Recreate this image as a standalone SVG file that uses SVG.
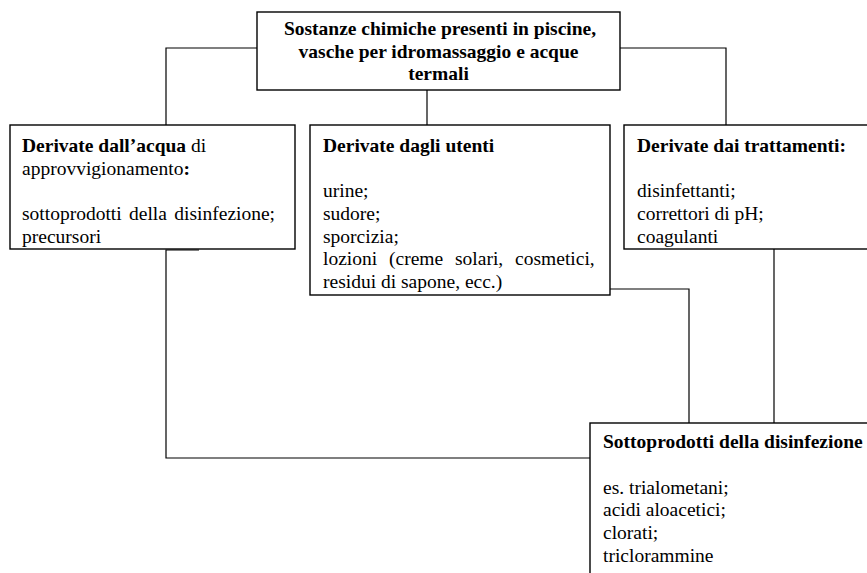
<svg xmlns="http://www.w3.org/2000/svg" width="867" height="573" viewBox="0 0 867 573">
  <style>
    .box { fill: #fff; stroke: #000; stroke-width: 1.4; }
    .wire { fill: none; stroke: #000; stroke-width: 1.2; }
    text { font-family: "Liberation Serif", "Times New Roman", serif; font-size: 19.5px; fill: #000; }
    .b { font-weight: bold; }
    .mid { text-anchor: middle; }
  </style>
  <rect width="867" height="573" fill="#fff"/>

  <!-- connectors -->
  <g id="connectors">
    <polyline class="wire" points="257,48 166,48 166,125"/>
    <line class="wire" x1="427" y1="90" x2="427" y2="125"/>
    <polyline class="wire" points="620,48 726,48 726,125"/>
    <polyline class="wire" points="199,250 166,250 166,458 590,458"/>
    <polyline class="wire" points="610,289 689,289 689,423"/>
    <line class="wire" x1="774" y1="245" x2="774" y2="423"/>
  </g>

  <g id="root">
    <rect class="box" x="257" y="12" width="363" height="78"/>
    <text class="b mid" x="440" y="35">Sostanze chimiche presenti in piscine,</text>
    <text class="b mid" x="438.5" y="58">vasche per idromassaggio e acque</text>
    <text class="b mid" x="438.5" y="80">termali</text>
  </g>

  <g id="acqua">
    <rect class="box" x="10" y="125" width="285" height="124"/>
    <text x="22" y="152"><tspan class="b">Derivate dall’acqua</tspan> di</text>
    <text x="22" y="175">approvvigionamento<tspan class="b">:</tspan></text>
    <text x="22" y="220" word-spacing="2.5">sottoprodotti della disinfezione;</text>
    <text x="22" y="243">precursori</text>
  </g>

  <g id="utenti">
    <rect class="box" x="310" y="125" width="300" height="170"/>
    <text class="b" x="323" y="152">Derivate dagli utenti</text>
    <text x="323" y="197">urine;</text>
    <text x="323" y="220">sudore;</text>
    <text x="323" y="243">sporcizia;</text>
    <text x="323" y="265" word-spacing="7">lozioni (creme solari, cosmetici,</text>
    <text x="323" y="288">residui di sapone, ecc.)</text>
  </g>

  <g id="trattamenti">
    <rect class="box" x="624" y="125" width="250" height="124"/>
    <text class="b" x="637" y="152">Derivate dai trattamenti:</text>
    <text x="637" y="197">disinfettanti;</text>
    <text x="637" y="220">correttori di pH;</text>
    <text x="637" y="243">coagulanti</text>
  </g>

  <g id="sottoprodotti">
    <rect class="box" x="590" y="423" width="290" height="160"/>
    <text class="b" x="603" y="448">Sottoprodotti della disinfezione</text>
    <text x="603" y="494">es. trialometani;</text>
    <text x="603" y="516">acidi aloacetici;</text>
    <text x="603" y="539">clorati;</text>
    <text x="603" y="562">triclorammine</text>
  </g>
</svg>
